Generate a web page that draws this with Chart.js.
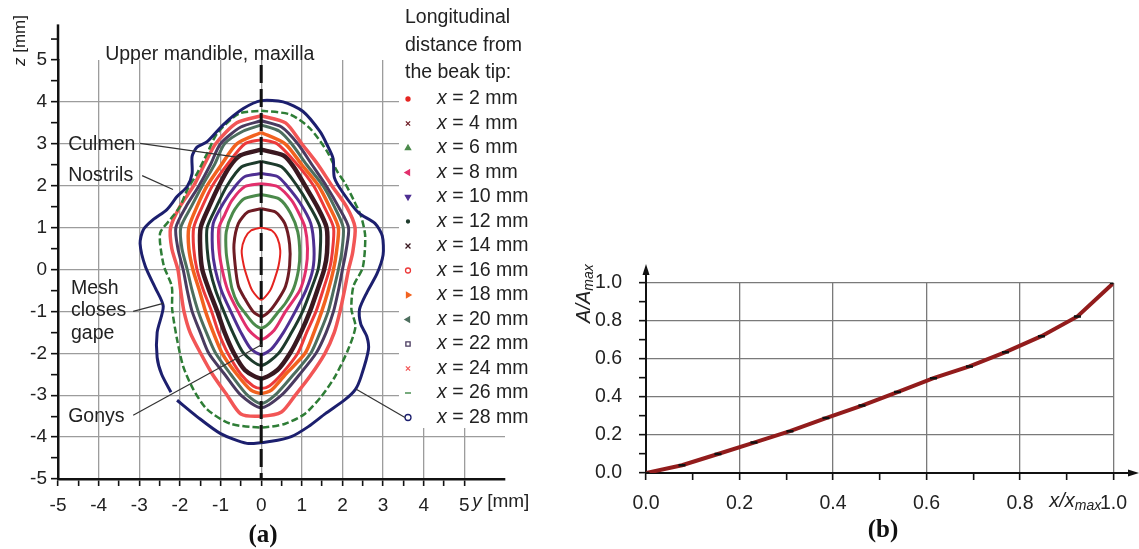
<!DOCTYPE html>
<html lang="en">
<head>
    <meta charset="UTF-8">
    <title>Beak cross-sections and relative area</title>
    <script src="https://cdn.jsdelivr.net/npm/chart.js"></script>
    <style>
        * {
            margin: 0;
            padding: 0;
            box-sizing: border-box;
        }

        body {
            background: #fff;
            width: 1139px;
            height: 549px;
            overflow: hidden;
            position: relative;
        }

        #sections {
            position: absolute;
            left: 0;
            top: 0;
        }

        #area {
            position: absolute;
            left: 560px;
            top: 0;
        }
    </style>
</head>
<body>
    <canvas id="sections" width="560" height="549"></canvas>
    <canvas id="area" width="579" height="549"></canvas>
    <script>
        // ---- (a) cross-section contours, [y, z] in mm ----
        const distancesMm = [2, 4, 6, 8, 10, 12, 14, 16, 18, 20, 22, 24, 26, 28];

        const x2mm = [[0,1.0],[0.26,0.93],[0.4,0.75],[0.47,0.45],[0.43,0.1],[0.34,-0.2],[0.22,-0.5],[0,-0.72],[-0.22,-0.5],[-0.34,-0.2],[-0.43,0.1],[-0.48,0.45],[-0.4,0.75],[-0.25,0.93],[0,1.0]];
        const x4mm = [[0,1.45],[0.35,1.37],[0.58,1.1],[0.7,0.6],[0.7,0.1],[0.6,-0.4],[0.43,-0.7],[0.2,-1.0],[0,-1.12],[-0.2,-1.0],[-0.4,-0.7],[-0.56,-0.4],[-0.64,0.1],[-0.67,0.6],[-0.56,1.1],[-0.33,1.37],[0,1.45]];
        const x6mm = [[0,1.79],[0.45,1.68],[0.72,1.35],[0.9,0.9],[0.95,0.4],[0.92,0],[0.8,-0.45],[0.6,-0.8],[0.39,-1.05],[0.18,-1.3],[0,-1.4],[-0.18,-1.3],[-0.39,-1.05],[-0.58,-0.8],[-0.72,-0.45],[-0.8,0],[-0.86,0.4],[-0.86,0.9],[-0.7,1.35],[-0.43,1.68],[0,1.79]];
        const x8mm = [[0,2.05],[0.4,1.98],[0.75,1.65],[0.95,1.3],[1.08,1.0],[1.14,0.5],[1.1,0],[0.95,-0.5],[0.6,-1.0],[0.32,-1.45],[0,-1.67],[-0.3,-1.45],[-0.57,-1.0],[-0.82,-0.5],[-0.96,0],[-1.04,0.5],[-1.04,1.0],[-0.9,1.3],[-0.72,1.65],[-0.4,1.98],[0,2.05]];
        const x10mm = [[0,2.29],[0.4,2.22],[0.63,2.0],[0.95,1.6],[1.22,1.1],[1.3,0.5],[1.27,0],[1.1,-0.5],[0.84,-1.0],[0.55,-1.5],[0.25,-1.9],[0,-2.03],[-0.25,-1.9],[-0.5,-1.5],[-0.75,-1.0],[-0.98,-0.5],[-1.13,0],[-1.2,0.5],[-1.18,1.1],[-0.92,1.6],[-0.63,2.0],[-0.4,2.22],[0,2.29]];
        const x12mm = [[0,2.58],[0.5,2.45],[0.88,2.0],[1.2,1.5],[1.45,1.0],[1.45,0.4],[1.4,0],[1.22,-0.5],[1.02,-1.0],[0.75,-1.5],[0.43,-2.0],[0,-2.29],[-0.43,-2.0],[-0.7,-1.5],[-0.92,-1.0],[-1.12,-0.5],[-1.26,0],[-1.33,0.5],[-1.33,1.0],[-1.1,1.5],[-0.84,2.0],[-0.48,2.45],[0,2.58]];
        const x14mm = [[0,2.86],[0.55,2.72],[0.8,2.45],[1.08,2.0],[1.38,1.5],[1.61,1.0],[1.62,0.4],[1.55,0],[1.38,-0.5],[1.2,-1.0],[0.98,-1.5],[0.71,-2.0],[0.4,-2.4],[0,-2.6],[-0.4,-2.4],[-0.67,-2.0],[-0.9,-1.5],[-1.08,-1.0],[-1.28,-0.5],[-1.45,0],[-1.5,0.5],[-1.49,1.0],[-1.28,1.5],[-1.04,2.0],[-0.78,2.45],[-0.52,2.72],[0,2.86]];
        const x16mm = [[0,3.1],[0.39,3.0],[0.85,2.55],[1.29,2.0],[1.55,1.5],[1.78,1.0],[1.75,0.4],[1.68,0],[1.52,-0.5],[1.35,-1.0],[1.12,-1.5],[0.9,-2.0],[0.5,-2.5],[0.2,-2.78],[0,-2.84],[-0.2,-2.78],[-0.5,-2.5],[-0.82,-2.0],[-1.05,-1.5],[-1.22,-1.0],[-1.42,-0.5],[-1.58,0],[-1.66,0.5],[-1.66,1.0],[-1.45,1.5],[-1.2,2.0],[-0.8,2.55],[-0.4,3.0],[0,3.1]];
        const x18mm = [[0,3.27],[0.59,3.0],[1.0,2.5],[1.41,2.0],[1.68,1.5],[1.9,1.0],[1.85,0.4],[1.78,0],[1.65,-0.5],[1.49,-1.0],[1.3,-1.5],[1.08,-2.0],[0.6,-2.5],[0.25,-2.88],[0,-2.96],[-0.25,-2.88],[-0.6,-2.5],[-0.96,-2.0],[-1.18,-1.5],[-1.37,-1.0],[-1.52,-0.5],[-1.68,0],[-1.78,0.5],[-1.78,1.0],[-1.58,1.5],[-1.33,2.0],[-0.98,2.5],[-0.6,3.0],[0,3.27]];
        const x20mm = [[0,3.45],[0.45,3.3],[0.75,3.0],[1.12,2.5],[1.52,2.0],[1.8,1.5],[2.02,1.0],[1.98,0.4],[1.9,0],[1.78,-0.5],[1.65,-1.0],[1.45,-1.5],[1.22,-2.0],[0.8,-2.5],[0.34,-3.0],[0,-3.2],[-0.34,-3.0],[-0.75,-2.5],[-1.12,-2.0],[-1.35,-1.5],[-1.55,-1.0],[-1.7,-0.5],[-1.82,0],[-1.95,0.5],[-1.98,1.0],[-1.72,1.5],[-1.45,2.0],[-1.15,2.5],[-0.9,3.0],[-0.45,3.3],[0,3.45]];
        const x22mm = [[0,3.55],[0.5,3.4],[0.9,3.0],[1.25,2.5],[1.6,2.0],[1.9,1.5],[2.15,1.0],[2.08,0.4],[2.0,0],[1.9,-0.5],[1.78,-1.0],[1.6,-1.5],[1.35,-2.0],[0.95,-2.5],[0.5,-3.0],[0,-3.3],[-0.5,-3.0],[-0.9,-2.5],[-1.29,-2.0],[-1.5,-1.5],[-1.7,-1.0],[-1.82,-0.5],[-1.92,0],[-2.05,0.5],[-2.1,1.0],[-1.85,1.5],[-1.53,2.0],[-1.25,2.5],[-1.0,3.0],[-0.5,3.4],[0,3.55]];
        const x24mm = [[0,3.67],[0.6,3.5],[1.0,3.0],[1.4,2.5],[1.74,2.0],[2.1,1.5],[2.31,1.0],[2.25,0.4],[2.15,0],[2.05,-0.5],[1.94,-1.0],[1.8,-1.5],[1.57,-2.0],[1.2,-2.55],[0.84,-3.0],[0.5,-3.4],[0,-3.5],[-0.5,-3.45],[-0.84,-3.0],[-1.2,-2.5],[-1.49,-2.0],[-1.75,-1.5],[-1.9,-1.0],[-1.98,-0.5],[-2.05,0],[-2.2,0.5],[-2.23,1.0],[-2.0,1.5],[-1.66,2.0],[-1.4,2.5],[-1.12,3.0],[-0.6,3.5],[0,3.67]];
        const x26mm = [[0,3.79],[0.71,3.7],[1.2,3.37],[1.62,2.82],[1.87,2.34],[2.07,2.05],[2.27,1.67],[2.46,1.26],[2.56,0.79],[2.5,0.05],[2.27,-0.4],[2.22,-0.95],[2.32,-1.36],[2.14,-1.91],[1.82,-2.55],[1.48,-3.03],[1.08,-3.44],[0.59,-3.68],[0,-3.77],[-0.76,-3.68],[-1.33,-3.34],[-1.67,-2.86],[-1.92,-2.31],[-2.07,-1.67],[-2.19,-0.95],[-2.2,-0.4],[-2.4,0.1],[-2.49,0.86],[-2.24,1.19],[-2.0,1.5],[-1.82,1.9],[-1.58,2.29],[-1.33,2.77],[-1.08,3.25],[-0.55,3.72],[0,3.79]];
        const x28mm = [[-2.07,-3.12],[-1.58,-3.51],[-1.01,-3.91],[-0.35,-4.15],[0.25,-4.1],[0.74,-3.99],[1.16,-3.75],[1.58,-3.44],[2.07,-3.1],[2.32,-2.86],[2.46,-2.55],[2.64,-1.91],[2.6,-1.6],[2.45,-1.3],[2.42,-0.95],[2.6,-0.55],[2.85,-0.1],[3.0,0.35],[2.98,0.8],[2.8,1.1],[2.4,1.35],[2.0,1.85],[1.8,2.2],[1.77,2.65],[1.62,2.98],[1.45,3.29],[1.03,3.77],[0.54,4.0],[0,4.03],[-0.44,3.84],[-0.93,3.46],[-1.33,3.05],[-1.58,2.92],[-1.7,2.7],[-1.7,2.29],[-1.82,1.98],[-2.07,1.74],[-2.32,1.43],[-2.66,1.19],[-2.9,0.95],[-2.98,0.62],[-2.85,0.07],[-2.6,-0.45],[-2.41,-0.88],[-2.56,-1.5],[-2.56,-2.1],[-2.45,-2.5],[-2.22,-2.93]];

        const sectionShapes = [x2mm, x4mm, x6mm, x8mm, x10mm, x12mm, x14mm, x16mm, x18mm, x20mm, x22mm, x24mm, x26mm, x28mm];
        const symmetryLine = [[0, 4.88], [0, -5]];

        // ---- (b) relative area along the beak ----
        const relDistance = [0, 0.077, 0.154, 0.231, 0.308, 0.385, 0.462, 0.538, 0.615, 0.692, 0.769, 0.846, 0.923, 1.0];
        const relArea = [0, 0.041, 0.100, 0.160, 0.220, 0.289, 0.355, 0.426, 0.499, 0.561, 0.636, 0.720, 0.824, 1.0];

        // styles
        const FONT = "'Liberation Sans', Arial, sans-serif";
        const SERIF = "'Liberation Serif', 'Times New Roman', serif";
        const GRID = "#9c9c9c";
        const NONE = "rgba(0,0,0,0)";
        const sectionColors = ["#e5231f", "#6e1c24", "#4b8a4b", "#e22f6c", "#4e2f92", "#1d3b2c", "#3a1820", "#ec3a3a", "#f2621f", "#4d6e5e", "#4a3b60", "#f25656", "#2e7d36", "#1c1f6e"];
        const sectionWidths = [2, 3, 3, 3, 3, 3, 4.5, 3, 3.5, 3, 3, 3.5, 2.5, 3];
        const sectionMarkers = [
            { pointStyle: "circle", radius: 2, fill: true },
            { pointStyle: "crossRot", radius: 3 },
            { pointStyle: "triangle", radius: 3, fill: true },
            { pointStyle: "triangle", radius: 3, rotation: -90, fill: true },
            { pointStyle: "triangle", radius: 3, rotation: 180, fill: true },
            { pointStyle: "circle", radius: 1.5, fill: true },
            { pointStyle: "crossRot", radius: 3.5 },
            { pointStyle: "circle", radius: 2.5 },
            { pointStyle: "triangle", radius: 3, rotation: 90, fill: true },
            { pointStyle: "triangle", radius: 3, rotation: -90, fill: true },
            { pointStyle: "rect", radius: 3 },
            { pointStyle: "crossRot", radius: 3 },
            { pointStyle: "line", radius: 3 },
            { pointStyle: "circle", radius: 3 }
        ];

        function isWhole(v) {
            return Math.abs(v - Math.round(v)) < 1e-6;
        }

        function toPoints(pairs) {
            return pairs.map(p => ({ x: p[0], y: p[1] }));
        }

        // draws a run of text pieces (normal / italic / subscript) from x
        function drawRich(ctx, parts, x, y) {
            let cx = x;
            parts.forEach(p => {
                ctx.font = (p.italic ? "italic " : "") + (p.bold ? "bold " : "") + p.size + "px " + (p.family || FONT);
                ctx.fillText(p.t, cx, y + (p.dy || 0));
                cx += ctx.measureText(p.t).width;
            });
            return cx;
        }

        // annotation texts and leader lines, in data units
        const notes = [
            { lines: ["Upper mandible, maxilla"], at: [-3.84, 5.13] },
            { lines: ["Culmen"], at: [-4.75, 2.98], lead: [[-2.98, 3.01], [-0.52, 2.67]] },
            { lines: ["Nostrils"], at: [-4.75, 2.24], lead: [[-2.93, 2.24], [-2.17, 1.91]] },
            { lines: ["Mesh", "closes", "gape"], at: [-4.68, -0.45], lead: [[-3.15, -1.0], [-2.41, -0.81]] },
            { lines: ["Gonys"], at: [-4.75, -3.51], lead: [[-3.15, -3.48], [0.02, -1.79]] }
        ];

        const sectionsDecor = {
            id: "sectionsDecor",
            beforeDatasetsDraw(chart) {
                // white panel behind the legend hides the grid there
                const ctx = chart.ctx;
                ctx.save();
                ctx.fillStyle = "#fff";
                ctx.fillRect(399, 0, chart.width - 399, 428);
                ctx.restore();
            },
            afterDraw(chart) {
                const ctx = chart.ctx;
                const xs = chart.scales.x, ys = chart.scales.y;
                const left = chart.chartArea.left;
                ctx.save();

                // y axis continues above z = 5
                ctx.strokeStyle = "#111";
                ctx.lineWidth = 2.5;
                ctx.beginPath();
                ctx.moveTo(left, ys.getPixelForValue(5));
                ctx.lineTo(left, ys.getPixelForValue(5.85));
                ctx.stroke();
                ctx.lineWidth = 1.6;
                ctx.beginPath();
                ctx.moveTo(left - 7, ys.getPixelForValue(5.5));
                ctx.lineTo(left, ys.getPixelForValue(5.5));
                ctx.stroke();

                // axis titles
                ctx.fillStyle = "#222";
                ctx.textBaseline = "middle";
                ctx.textAlign = "left";
                ctx.save();
                ctx.translate(20, 66);
                ctx.rotate(-Math.PI / 2);
                drawRich(ctx, [{ t: "z", italic: true, size: 17 }, { t: " [mm]", size: 17 }], 0, 0);
                ctx.restore();
                drawRich(ctx, [{ t: "y", italic: true, size: 19 }, { t: " [mm]", size: 19 }], xs.getPixelForValue(5) + 8, 502);

                // annotations
                notes.forEach(n => {
                    const tx = xs.getPixelForValue(n.at[0]);
                    const ty = ys.getPixelForValue(n.at[1]);
                    ctx.fillStyle = "#222";
                    n.lines.forEach((s, i) => drawRich(ctx, [{ t: s, size: 19.5 }], tx, ty + i * 22.5));
                    if (n.lead) {
                        ctx.strokeStyle = "#333";
                        ctx.lineWidth = 1.2;
                        ctx.beginPath();
                        ctx.moveTo(xs.getPixelForValue(n.lead[0][0]), ys.getPixelForValue(n.lead[0][1]));
                        ctx.lineTo(xs.getPixelForValue(n.lead[1][0]), ys.getPixelForValue(n.lead[1][1]));
                        ctx.stroke();
                    }
                });

                // legend
                ctx.fillStyle = "#222";
                ["Longitudinal", "distance from", "the beak tip:"].forEach((s, i) => {
                    drawRich(ctx, [{ t: s, size: 19.5 }], 405, 18 + i * 27.5);
                });
                const rowY = i => 99 + i * 24.5;
                distancesMm.forEach((d, i) => {
                    const m = sectionMarkers[i];
                    const c = sectionColors[i];
                    ctx.fillStyle = m.fill ? c : "#fff";
                    ctx.strokeStyle = c;
                    ctx.lineWidth = 1.3;
                    const opts = { pointStyle: m.pointStyle, radius: m.radius, rotation: m.rotation || 0, borderWidth: 1.3 };
                    if (Chart.helpers && Chart.helpers.drawPoint) {
                        Chart.helpers.drawPoint(ctx, opts, 408, rowY(i));
                    }
                    ctx.fillStyle = "#222";
                    drawRich(ctx, [{ t: "x", italic: true, size: 19.5 }, { t: " = " + d + " mm", size: 19.5 }], 437, rowY(i));
                });
                // leader from the outermost contour to its legend entry
                ctx.strokeStyle = "#333";
                ctx.lineWidth = 1.2;
                ctx.beginPath();
                ctx.moveTo(xs.getPixelForValue(2.34), ys.getPixelForValue(-2.86));
                ctx.lineTo(405, rowY(13));
                ctx.stroke();

                // panel label
                ctx.fillStyle = "#111";
                ctx.textAlign = "center";
                ctx.font = "bold 25px " + SERIF;
                ctx.fillText("(a)", 263, 536);
                ctx.restore();
            }
        };

        const sectionSets = sectionShapes.map((shape, i) => ({
            label: "x = " + distancesMm[i] + " mm",
            data: toPoints(shape),
            showLine: true,
            borderColor: sectionColors[i],
            borderWidth: sectionWidths[i],
            borderDash: i === 12 ? [7, 3] : [],
            pointRadius: 0,
            pointStyle: sectionMarkers[i].pointStyle,
            tension: 0.25,
            fill: false
        }));

        new Chart(document.getElementById("sections"), {
            type: "scatter",
            data: {
                datasets: [{
                    label: "symmetry",
                    data: toPoints(symmetryLine),
                    showLine: true,
                    borderColor: "#111",
                    borderWidth: 3,
                    borderDash: [18, 6],
                    pointRadius: 0
                }].concat(sectionSets.slice().reverse())
            },
            options: {
                responsive: false,
                animation: false,
                events: [],
                layout: { padding: { top: 60, right: 55, left: 0, bottom: 0 } },
                plugins: { legend: { display: false }, tooltip: { enabled: false } },
                scales: {
                    x: {
                        type: "linear",
                        min: -5,
                        max: 6,
                        afterFit: s => { s.height = 70; },
                        border: { color: "#111", width: 2.5 },
                        grid: {
                            color: c => (isWhole(c.tick.value) && c.tick.value > -5 && c.tick.value <= 5) ? GRID : NONE,
                            tickColor: c => c.tick.value <= 5 ? "#111" : NONE,
                            lineWidth: 1.3,
                            tickLength: 7,
                            tickWidth: 1.6
                        },
                        ticks: {
                            stepSize: 0.5,
                            includeBounds: false,
                            autoSkip: false,
                            maxRotation: 0,
                            padding: 8,
                            color: "#222",
                            font: { family: FONT, size: 19 },
                            callback: v => (isWhole(v) && v <= 5) ? String(Math.round(v)) : ""
                        }
                    },
                    y: {
                        type: "linear",
                        min: -5,
                        max: 5,
                        afterFit: s => { s.width = 58; },
                        border: { color: "#111", width: 2.5 },
                        grid: {
                            color: c => (isWhole(c.tick.value) && c.tick.value > -5 && c.tick.value < 5) ? GRID : NONE,
                            tickColor: "#111",
                            lineWidth: 1.3,
                            tickLength: 7,
                            tickWidth: 1.6
                        },
                        ticks: {
                            stepSize: 0.5,
                            includeBounds: false,
                            autoSkip: false,
                            padding: 4,
                            color: "#222",
                            font: { family: FONT, size: 19 },
                            callback: v => isWhole(v) ? String(Math.round(v)) : ""
                        }
                    }
                }
            },
            plugins: [sectionsDecor]
        });

        // ---- (b) ----
        const areaDecor = {
            id: "areaDecor",
            afterDraw(chart) {
                const ctx = chart.ctx;
                const xs = chart.scales.x, ys = chart.scales.y;
                const a = chart.chartArea;
                ctx.save();
                ctx.strokeStyle = "#111";
                ctx.fillStyle = "#111";
                ctx.lineWidth = 2;

                // arrow heads on both axes
                const yTop = ys.getPixelForValue(1.09);
                ctx.beginPath();
                ctx.moveTo(a.left, a.top);
                ctx.lineTo(a.left, yTop + 6);
                ctx.stroke();
                ctx.beginPath();
                ctx.moveTo(a.left, yTop - 2);
                ctx.lineTo(a.left - 3.5, yTop + 9);
                ctx.lineTo(a.left + 3.5, yTop + 9);
                ctx.closePath();
                ctx.fill();

                const xEnd = chart.width - 1;
                ctx.beginPath();
                ctx.moveTo(a.right, a.bottom);
                ctx.lineTo(xEnd - 6, a.bottom);
                ctx.stroke();
                ctx.beginPath();
                ctx.moveTo(xEnd + 1, a.bottom);
                ctx.lineTo(xEnd - 10, a.bottom - 3.5);
                ctx.lineTo(xEnd - 10, a.bottom + 3.5);
                ctx.closePath();
                ctx.fill();

                // axis titles
                ctx.fillStyle = "#222";
                ctx.textAlign = "left";
                ctx.textBaseline = "middle";
                ctx.save();
                ctx.translate(24, ys.getPixelForValue(0.79));
                ctx.rotate(-Math.PI / 2);
                drawRich(ctx, [{ t: "A/A", italic: true, size: 20 }, { t: "max", italic: true, size: 14, dy: 5 }], 0, 0);
                ctx.restore();
                drawRich(ctx, [{ t: "x/x", italic: true, size: 20 }, { t: "max", italic: true, size: 14, dy: 5 }], xs.getPixelForValue(0.901) - 18, 501);

                ctx.fillStyle = "#111";
                ctx.textAlign = "center";
                ctx.font = "bold 25px " + SERIF;
                ctx.fillText("(b)", 323, 531);
                ctx.restore();
            }
        };

        const majorTenth = v => Math.round(v * 10) % 2 === 0;

        new Chart(document.getElementById("area"), {
            type: "scatter",
            data: {
                datasets: [{
                    label: "A/Amax",
                    data: relDistance.map((x, i) => ({ x: x, y: relArea[i] })),
                    showLine: true,
                    borderColor: "#921c1c",
                    borderWidth: 4,
                    tension: 0,
                    pointStyle: "line",
                    pointRadius: 3.5,
                    pointBorderColor: "#111",
                    pointBorderWidth: 2.5,
                    pointBackgroundColor: "#111"
                }]
            },
            options: {
                responsive: false,
                animation: false,
                events: [],
                layout: { padding: { top: 283, right: 15, left: 0, bottom: 0 } },
                plugins: { legend: { display: false }, tooltip: { enabled: false } },
                scales: {
                    x: {
                        type: "linear",
                        min: 0,
                        max: 1,
                        afterFit: s => { s.height = 76; },
                        border: { color: "#111", width: 2 },
                        grid: {
                            color: c => (majorTenth(c.tick.value) && c.tick.value > 0.01) ? "#7a7a7a" : NONE,
                            tickColor: "#111",
                            lineWidth: 1.3,
                            tickLength: 7,
                            tickWidth: 1.6
                        },
                        ticks: {
                            stepSize: 0.1,
                            autoSkip: false,
                            maxRotation: 0,
                            padding: 12,
                            color: "#222",
                            font: { family: FONT, size: 19.5 },
                            callback: v => majorTenth(v) ? v.toFixed(1) : ""
                        }
                    },
                    y: {
                        type: "linear",
                        min: 0,
                        max: 1,
                        afterFit: s => { s.width = 86; },
                        border: { color: "#111", width: 2 },
                        grid: {
                            color: c => (majorTenth(c.tick.value) && c.tick.value > 0.01) ? "#7a7a7a" : NONE,
                            tickColor: "#111",
                            lineWidth: 1.3,
                            tickLength: 7,
                            tickWidth: 1.6
                        },
                        ticks: {
                            stepSize: 0.1,
                            autoSkip: false,
                            padding: 17,
                            color: "#222",
                            font: { family: FONT, size: 19.5 },
                            callback: v => majorTenth(v) ? v.toFixed(1) : ""
                        }
                    }
                }
            },
            plugins: [areaDecor]
        });
    </script>
</body>
</html>
